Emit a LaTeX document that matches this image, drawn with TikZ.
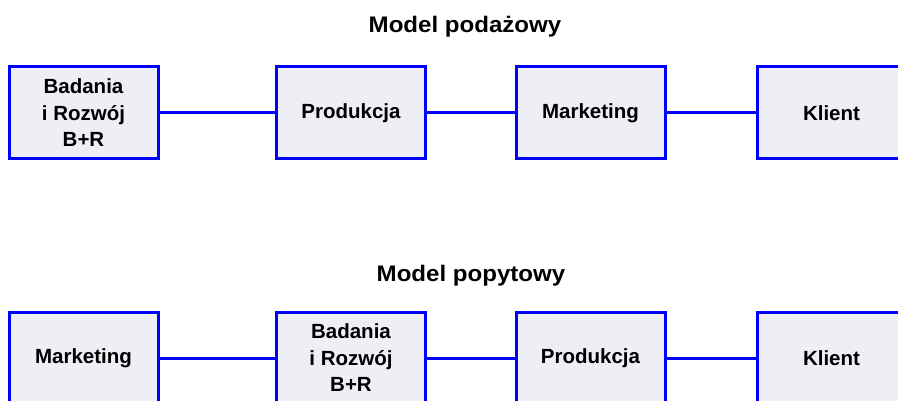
\documentclass[tikz,border=0pt]{standalone}
\usepackage{fontspec}
\setmainfont{Liberation Sans}
\newfontfamily\titlefont[FakeStretch=1.07]{Liberation Sans}
\definecolor{boxblue}{RGB}{0,0,255}
\definecolor{boxfill}{RGB}{237,239,245}
\begin{document}
\begin{tikzpicture}[x=1pt,y=-1pt,
  stagebox/.style={draw=boxblue,fill=boxfill,line width=3pt,minimum width=149pt,minimum height=92pt,inner sep=0pt,align=center,font=\fontsize{20.5}{26.5}\selectfont\bfseries},
  link/.style={draw=boxblue,line width=3pt},
  heading/.style={font=\titlefont\bfseries\fontsize{22.5}{26}\selectfont,inner sep=0pt,anchor=base}]
\useasboundingbox (0,0) rectangle (898,401);
\clip (0,0) rectangle (898,401);
\node[heading] (t1) at (465,32.5) {Model podażowy};
\node[stagebox] (a1) at (83.5,113) {Badania\\i Rozwój\\B+R};
\node[stagebox] (a2) at (351,113) {Produkcja};
\node[stagebox] (a3) at (590.5,113) {Marketing};
\node[stagebox] (a4) at (831.5,113) {Klient};
\draw[link] (a1) -- (a2);
\draw[link] (a2) -- (a3);
\draw[link] (a3) -- (a4);
\node[heading] (t2) at (471,281.5) {Model popytowy};
\node[stagebox] (b1) at (83.5,358) {Marketing};
\node[stagebox] (b2) at (351,358) {Badania\\i Rozwój\\B+R};
\node[stagebox] (b3) at (590.5,358) {Produkcja};
\node[stagebox] (b4) at (831.5,358) {Klient};
\draw[link] (b1) -- (b2);
\draw[link] (b2) -- (b3);
\draw[link] (b3) -- (b4);
\end{tikzpicture}
\end{document}
